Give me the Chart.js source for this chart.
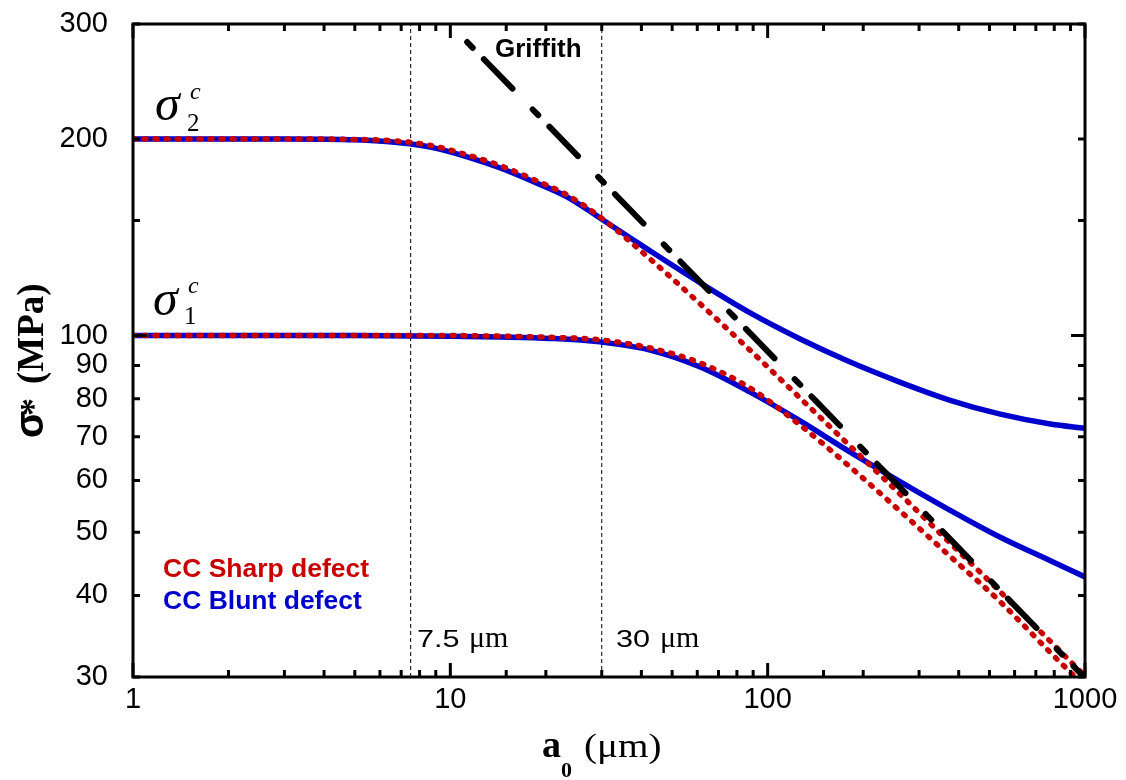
<!DOCTYPE html>
<html>
<head>
<meta charset="utf-8">
<script src="https://cdn.jsdelivr.net/npm/chart.js@4.4.0/dist/chart.umd.min.js"></script>
<style>
  body { margin: 0; background: #fff; }
  canvas { display: block; }
</style>
</head>
<body>
<canvas id="chart" width="1126" height="780"></canvas>
<script>
// Data (a0 in um, sigma in MPa)
const blunt2A = [1, 3, 5, 6.93, 8.81, 11.3, 14.3, 18.3, 23.3, 29.6, 42.6, 61.3, 88.1, 126.6, 182, 262, 376, 541, 778, 1000];
const blunt2S = [200, 200, 199.4, 197.3, 194, 187.8, 180.7, 172, 163.1, 151.4, 134.8, 120.4, 108.3, 98.8, 91.1, 84.8, 79.6, 75.8, 73.2, 72.1];

const sharp2A = [1, 3, 5, 6.93, 8.81, 11.3, 14.3, 18.3, 23.3, 29.6, 42.6, 61.3, 88.1, 126.6, 182, 262, 376, 541, 778, 1000];
const sharp2S = [200, 200, 199.7, 198.4, 195.2, 189.1, 182.2, 173.4, 164.2, 152.0, 131.0, 111.8, 94.9, 80.2, 67.7, 57.1, 48.1, 40.5, 34.0, 30.1];

const blunt1A = [1, 5, 10, 14.3, 20.6, 29.6, 42.6, 61.3, 88.1, 126.6, 182, 262, 376, 541, 778, 1000];
const blunt1S = [100, 100, 99.8, 99.5, 99.0, 97.8, 95.0, 89.5, 81.9, 74.0, 66.3, 59.7, 54.0, 49.1, 45.2, 42.7];

const sharp1A = [1, 5, 10, 14.3, 20.6, 29.6, 42.6, 61.3, 88.1, 126.6, 182, 262, 376, 541, 778, 1000];
const sharp1S = [100, 100, 100, 99.8, 99.4, 98.5, 95.7, 90.8, 83.1, 72.9, 62.9, 53.8, 45.9, 39.1, 32.7, 29.0];

const griffA = [11.3, 1000];
const griffS = [281.5, 29.9];

const markA = [7.5, 30];

const xTickLabels = [1, 10, 100, 1000];
const yTickLabels = [30, 40, 50, 60, 70, 80, 90, 100, 200, 300];

const SANS = '"Liberation Sans", Arial, sans-serif';
const SERIF = '"Liberation Serif", "Times New Roman", serif';
const RED = '#c80000';
const BLUE = '#0000cc';

const pts = (xs, ys) => xs.map((v, i) => ({ x: v, y: ys[i] }));

const isDecade = v => Math.abs(Math.log10(v) - Math.round(Math.log10(v))) < 1e-9;

// vertical marker lines
const markSets = markA.map(a => ({
    data: [{ x: a, y: 30 }, { x: a, y: 300 }],
    showLine: true, pointRadius: 0,
    borderColor: '#000', borderWidth: 1, borderDash: [4, 3],
    order: 5
}));

const curve = (xs, ys, color, width, dash, cap, order) => ({
    data: pts(xs, ys),
    showLine: true, pointRadius: 0,
    borderColor: color, borderWidth: width, borderDash: dash,
    borderCapStyle: cap,
    cubicInterpolationMode: 'monotone',
    order: order
});

// frame and inward ticks on all four sides
const framePlugin = {
    id: 'frame',
    afterDatasetsDraw(chart) {
        const { ctx, chartArea: ca, scales } = chart;
        const x = scales.x, y = scales.y;
        ctx.save();
        ctx.strokeStyle = '#000';
        ctx.lineWidth = 3;
        ctx.lineCap = 'butt';
        ctx.beginPath();
        x.ticks.forEach(t => {
            const px = x.getPixelForValue(t.value);
            const len = isDecade(t.value) ? 14 : 7;
            ctx.moveTo(px, ca.bottom); ctx.lineTo(px, ca.bottom - len);
            ctx.moveTo(px, ca.top); ctx.lineTo(px, ca.top + len);
        });
        y.ticks.forEach(t => {
            const py = y.getPixelForValue(t.value);
            const len = isDecade(t.value) ? 14 : 7;
            ctx.moveTo(ca.left, py); ctx.lineTo(ca.left + len, py);
            ctx.moveTo(ca.right, py); ctx.lineTo(ca.right - len, py);
        });
        ctx.stroke();
        ctx.lineJoin = 'miter';
        ctx.strokeRect(ca.left, ca.top, ca.right - ca.left, ca.bottom - ca.top);
        ctx.restore();
    }
};

function txt(ctx, s, x, y, font, color, sx) {
    ctx.save();
    ctx.translate(x, y);
    ctx.scale(sx || 1, 1);
    ctx.font = font;
    ctx.fillStyle = color;
    ctx.textBaseline = 'alphabetic';
    ctx.textAlign = 'left';
    ctx.fillText(s, 0, 0);
    ctx.restore();
}

// labels, legend and axis titles
const textPlugin = {
    id: 'texts',
    afterDraw(chart) {
        const ctx = chart.ctx;
        txt(ctx, 'Griffith', 495, 57, 'bold 26px ' + SANS, '#000');

        // sigma labels
        txt(ctx, 'σ', 155, 120, 'italic 50px ' + SERIF, '#000');
        txt(ctx, '2', 187, 131, '25px ' + SERIF, '#000');
        txt(ctx, 'c', 190, 99, 'italic 24px ' + SERIF, '#000');
        txt(ctx, 'σ', 153, 315, 'italic 50px ' + SERIF, '#000');
        txt(ctx, '1', 184, 324, '25px ' + SERIF, '#000');
        txt(ctx, 'c', 188, 293, 'italic 24px ' + SERIF, '#000');

        // legend text
        txt(ctx, 'CC Sharp defect', 163, 577, 'bold 25px ' + SANS, RED, 1.06);
        txt(ctx, 'CC Blunt defect', 163, 609, 'bold 25px ' + SANS, BLUE, 1.06);

        // marker labels
        txt(ctx, '7.5', 417, 647, '24.5px ' + SANS, '#000', 1.25);
        txt(ctx, 'μm', 469, 647, '30px ' + SERIF, '#000');
        txt(ctx, '30', 616, 647, '24.5px ' + SANS, '#000', 1.25);
        txt(ctx, 'μm', 660, 647, '30px ' + SERIF, '#000');

        // x title
        txt(ctx, 'a', 542, 757, 'bold 38px ' + SERIF, '#000');
        txt(ctx, '0', 561, 777, 'bold 22px ' + SERIF, '#000');
        txt(ctx, '(μm)', 584, 757, '34px ' + SERIF, '#000', 1.15);

        // y title (rotated)
        ctx.save();
        ctx.translate(43, 438);
        ctx.rotate(-Math.PI / 2);
        txt(ctx, 'σ', 0, 0, 'bold 40px ' + SANS, '#000');
        txt(ctx, '*', 22, 2, 'bold 36px ' + SERIF, '#000');
        txt(ctx, '(MPa)', 54, 0, 'bold 37px ' + SERIF, '#000');
        ctx.restore();
    }
};

new Chart(document.getElementById('chart'), {
    type: 'scatter',
    data: {
        datasets: [
            ...markSets,
            curve(blunt2A, blunt2S, BLUE, 5.5, [], 'butt', 4),
            curve(blunt1A, blunt1S, BLUE, 5.5, [], 'butt', 4),
            curve(sharp2A, sharp2S, RED, 5.5, [2, 9], 'round', 3),
            curve(sharp1A, sharp1S, RED, 5.5, [2, 9], 'round', 3),
            {
                data: pts(griffA, griffS),
                showLine: true, pointRadius: 0,
                borderColor: '#000', borderWidth: 6,
                borderDash: [8, 16, 41, 29], borderCapStyle: 'round',
                order: 1
            }
        ]
    },
    options: {
        responsive: false,
        animation: false,
        layout: { padding: { top: 24, right: 41, left: 0, bottom: 0 } },
        plugins: { legend: { display: false }, tooltip: { enabled: false } },
        scales: {
            x: {
                type: 'logarithmic', min: 1, max: 1000,
                grid: { display: false, drawTicks: false },
                border: { display: false },
                ticks: {
                    autoSkip: false, maxRotation: 0, padding: 6,
                    color: '#000', font: { family: SANS, size: 29 },
                    callback: v => xTickLabels.includes(v) ? String(v) : ''
                },
                afterFit: s => { s.height = 103; }
            },
            y: {
                type: 'logarithmic', min: 30, max: 300,
                grid: { display: false, drawTicks: false },
                border: { display: false },
                ticks: {
                    autoSkip: false, padding: 25,
                    color: '#000', font: { family: SANS, size: 29 },
                    callback: v => yTickLabels.includes(v) ? String(v) : ''
                },
                afterFit: s => { s.width = 133; s.paddingTop = 0; s.paddingBottom = 0; }
            }
        }
    },
    plugins: [framePlugin, textPlugin]
});
</script>
</body>
</html>
